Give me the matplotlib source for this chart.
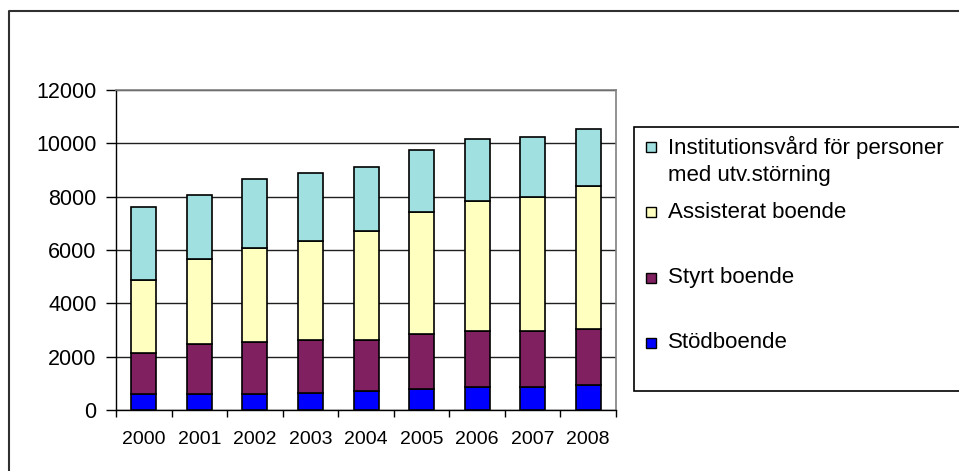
import matplotlib
matplotlib.use("Agg")
import matplotlib.pyplot as plt
import numpy as np
from matplotlib.patches import Rectangle
from matplotlib.lines import Line2D

plt.rcParams['font.family'] = ['Liberation Sans', 'DejaVu Sans']

years = ['2000', '2001', '2002', '2003', '2004', '2005', '2006', '2007', '2008']
stodboende = [590, 590, 590, 650, 710, 790, 850, 850, 925]
styrt = [1535, 1885, 1960, 1975, 1915, 2050, 2125, 2125, 2125]
assisterat = [2750, 3175, 3525, 3715, 4085, 4585, 4865, 5015, 5350]
institution = [2750, 2400, 2600, 2560, 2400, 2325, 2320, 2250, 2125]

labels = ['Stödboende', 'Styrt boende', 'Assisterat boende',
          'Institutionsvård för personer\nmed utv.störning']
colors = ['#0000FF', '#802060', '#FFFFC0', '#A0E0E0']
yticks = [0, 2000, 4000, 6000, 8000, 10000, 12000]

W, H = 959, 471
fig = plt.figure(figsize=(W / 100, H / 100), dpi=100)
fig.patch.set_facecolor('white')

def fx(x):
    return x / W

def fy(y):
    return 1 - y / H

ax = fig.add_axes([fx(116), fy(410), (616 - 116) / W, (410 - 90) / H])
x = np.arange(len(years))
series = [stodboende, styrt, assisterat, institution]
bottom = np.zeros(len(years))
for vals, col in zip(series, colors):
    ax.bar(x, vals, width=0.45, bottom=bottom, color=col, edgecolor='black',
           linewidth=1.2, zorder=3)
    bottom += np.array(vals)

ax.set_xlim(-0.5, len(years) - 0.5)
ax.set_ylim(0, 12000)
ax.set_yticks(yticks)
ax.set_yticklabels([str(v) for v in yticks], fontsize=15.5)
ax.set_xticks(x)
ax.set_xticklabels(years, fontsize=14)
ax.set_xticks(np.arange(-0.5, len(years)), minor=True)
ax.tick_params(axis='x', which='major', length=0, pad=15)
ax.tick_params(axis='x', which='minor', length=5, width=1, direction='out', color='black')
ax.tick_params(axis='y', which='major', length=7, width=1, direction='out', pad=7, color='black')
ax.yaxis.grid(True, color='#202020', linewidth=1, zorder=0)
ax.set_axisbelow(True)
for s in ['top', 'right']:
    ax.spines[s].set_color('#808080')
    ax.spines[s].set_linewidth(1.2)
for s in ['left', 'bottom']:
    ax.spines[s].set_color('black')
    ax.spines[s].set_linewidth(1)

# outer chart frame (left and top edges visible)
fig.add_artist(Line2D([fx(9), fx(9), fx(W + 5)], [fy(H + 5), fy(11), fy(11)],
                      transform=fig.transFigure, color='#303030', linewidth=1.5))

# legend box
fig.add_artist(Rectangle((fx(634), fy(391)), fx(400), (391 - 127) / H,
                         transform=fig.transFigure, facecolor='white',
                         edgecolor='black', linewidth=1.2))
entries = [(labels[3], colors[3], 147, 161),
           (labels[2], colors[2], 212, 212),
           (labels[1], colors[1], 278, 278),
           (labels[0], colors[0], 343, 343)]
for lab, col, sy, ty in entries:
    fig.add_artist(Rectangle((fx(646), fy(sy + 4.5)), fx(9.5), 9.5 / H,
                             transform=fig.transFigure, facecolor=col,
                             edgecolor='black', linewidth=1))
    fig.text(fx(668), fy(ty), lab, fontsize=16, va='center', ha='left',
             linespacing=1.4)

fig.savefig('out.png', dpi=100)
